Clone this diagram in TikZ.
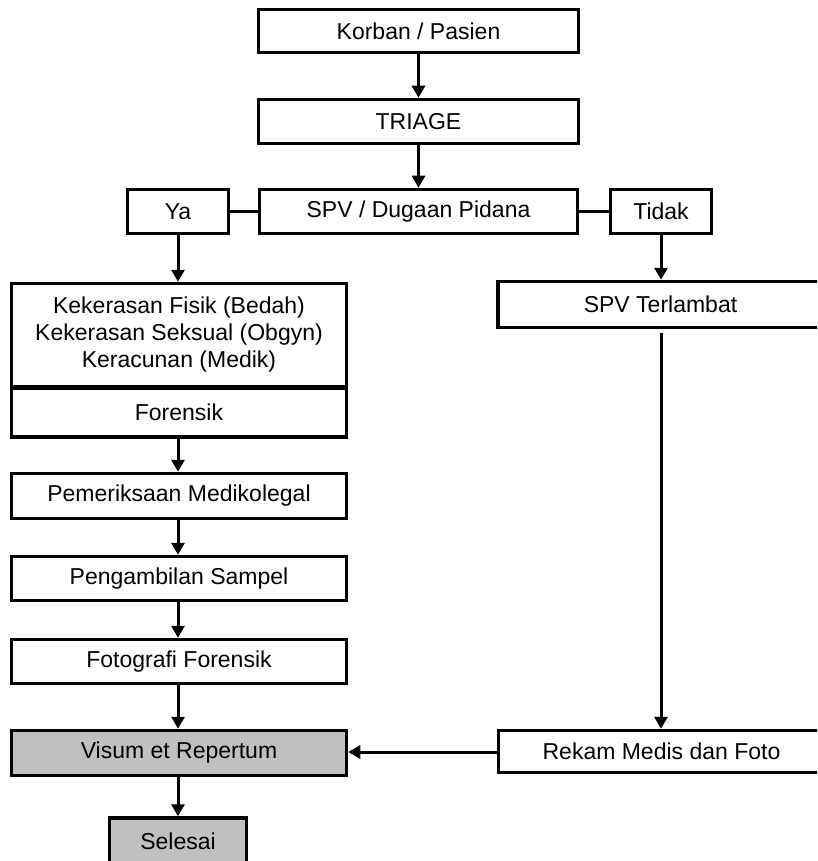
\documentclass[tikz,border=0pt]{standalone}
\usepackage{fontspec}
\setmainfont{Liberation Sans}
\usetikzlibrary{arrows.meta}
\definecolor{boxgray}{HTML}{C0C0C0}
\begin{document}
\begin{tikzpicture}[x=1pt,y=-1pt,
  box/.style={draw=black, line width=3.5pt, fill=white, inner sep=0pt, font=\fontsize{23}{27}\selectfont, align=center},
  graybox/.style={box, fill=boxgray},
  arr/.style={line width=3pt, -{Triangle[length=12pt,width=13pt]}},
  link/.style={line width=3.5pt}]
\useasboundingbox (0,0) rectangle (817,861);
\clip (0,0) rectangle (817,861);
\fill[white] (0,0) rectangle (817,861);

\node[box, minimum width=320pt, minimum height=43pt] (korban) at (418.5,31) {Korban / Pasien};
\node[box, minimum width=320pt, minimum height=44pt] (triage) at (418.5,121.5) {TRIAGE};
\node[box, minimum width=318pt, minimum height=44pt] (spv) at (418.5,211.5) {SPV / Dugaan Pidana};
\node[box, minimum width=101pt, minimum height=44pt] (ya) at (178,211.5) {Ya};
\node[box, minimum width=101pt, minimum height=44pt] (tidak) at (661,211.5) {Tidak};

\node[box, minimum width=335pt, minimum height=103pt] (kek) at (179,335) {Kekerasan Fisik (Bedah)\\Kekerasan Seksual (Obgyn)\\Keracunan (Medik)};
\node[box, minimum width=335pt, minimum height=49pt] (forensik) at (179,412.5) {Forensik};
\node[box, minimum width=335pt, minimum height=45pt] (pem) at (179,496) {Pemeriksaan Medikolegal};
\node[box, minimum width=335pt, minimum height=44pt] (peng) at (179,578.5) {Pengambilan Sampel};
\node[box, minimum width=335pt, minimum height=44pt] (foto) at (179,661.5) {Fotografi Forensik};
\node[graybox, minimum width=335pt, minimum height=45pt] (visum) at (179,753) {Visum et Repertum};
\node[graybox, minimum width=137pt, minimum height=46pt] (selesai) at (178,841) {Selesai};

\node[box, minimum width=325pt, minimum height=46pt] (spvt) at (660.5,304.5) {SPV Terlambat};
\node[box, minimum width=326pt, minimum height=42pt] (rekam) at (661.5,751.5) {Rekam Medis dan Foto};

\draw[arr] (korban.south) -- (triage.north);
\draw[arr] (triage.south) -- (spv.north);
\draw[link] (ya.east) -- (spv.west);
\draw[link] (spv.east) -- (tidak.west);
\draw[arr] (ya.south) -- (ya.south |- kek.north);
\draw[arr] (tidak.south) -- (tidak.south |- spvt.north);
\draw[arr] (forensik.south -| ya.south) -- (pem.north -| ya.south);
\draw[arr] (pem.south -| ya.south) -- (peng.north -| ya.south);
\draw[arr] (peng.south -| ya.south) -- (foto.north -| ya.south);
\draw[arr] (foto.south -| ya.south) -- (visum.north -| ya.south);
\draw[arr] (visum.south -| ya.south) -- (selesai.north);
\draw[arr, shorten <=4pt] (spvt.south -| tidak.south) -- (rekam.north -| tidak.south);
\draw[arr] (rekam.west |- 0,752) -- (visum.east |- 0,752);
\end{tikzpicture}
\end{document}
